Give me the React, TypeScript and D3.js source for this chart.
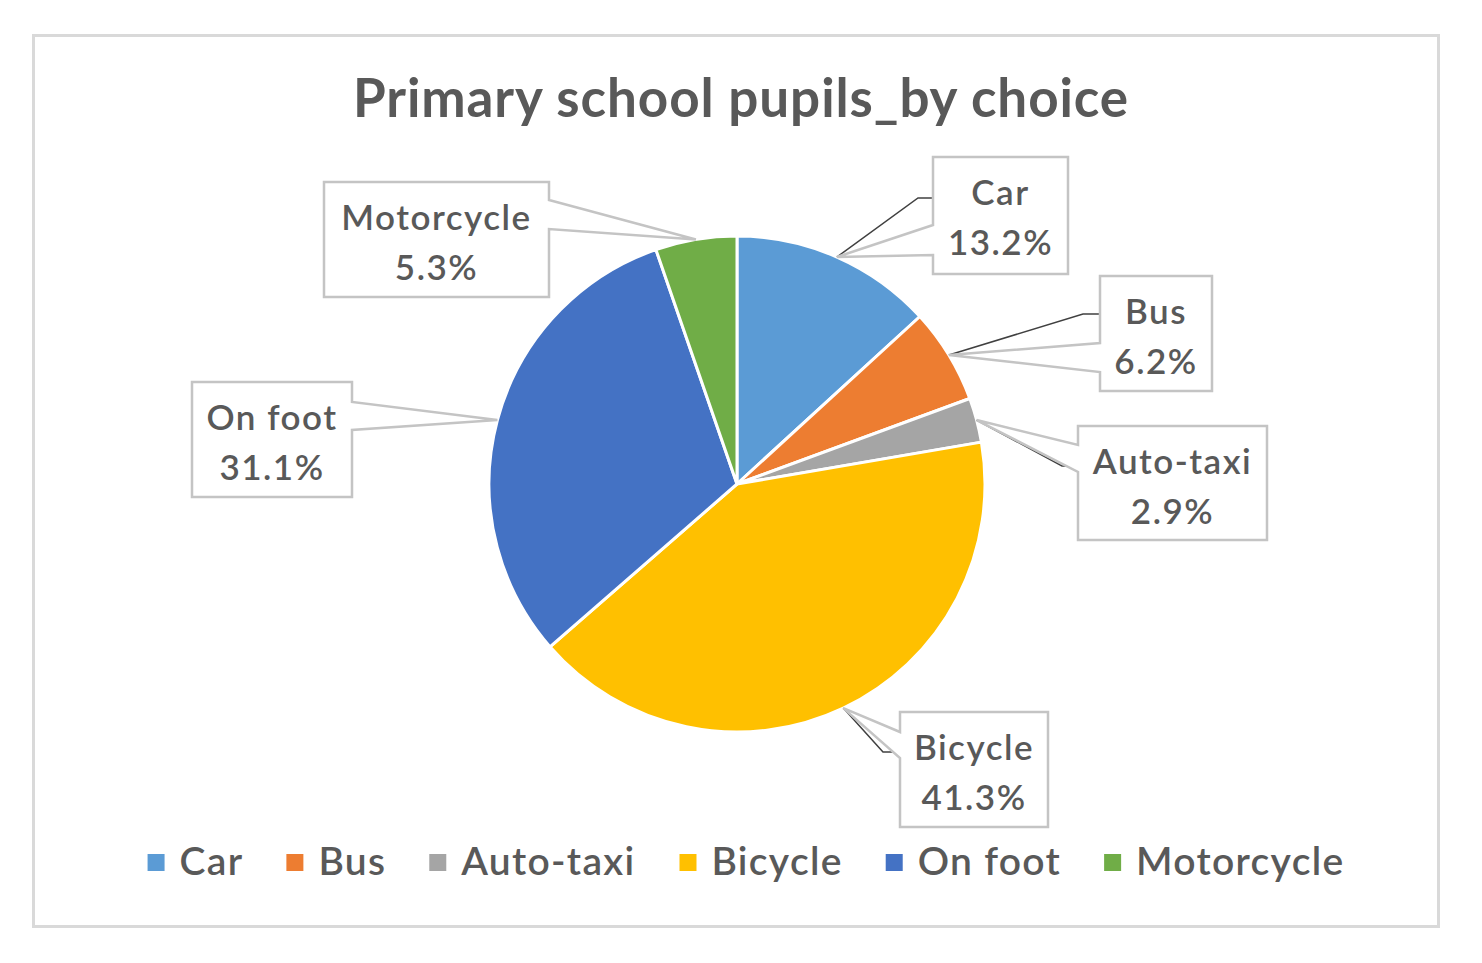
import React, { useLayoutEffect, useRef, useState } from "react";
import * as d3 from "d3";

const categories = ["Car", "Bus", "Auto-taxi", "Bicycle", "On foot", "Motorcycle"];
const shares = [13.2, 6.2, 2.9, 41.3, 31.1, 5.3];
const colors = ["#5B9BD5", "#ED7D31", "#A5A5A5", "#FFC000", "#4472C4", "#70AD47"];
const title = "Primary school pupils_by choice";

// callout layout (annotation boxes)
type Callout = {
  x: number; y: number; w: number; h: number;
  side: "left" | "right"; b0: number; b1: number;
  leader?: [number, number][];
};
const callouts: Callout[] = [
  { x: 933, y: 157, w: 135, h: 117, side: "left", b0: 225, b1: 255, leader: [[918, 198], [933, 198]] },
  { x: 1100, y: 276, w: 112, h: 115, side: "left", b0: 343, b1: 372, leader: [[1083, 314], [1100, 314]] },
  { x: 1078, y: 426, w: 189, h: 114, side: "left", b0: 445, b1: 472, leader: [[1062, 466], [1078, 466]] },
  { x: 900, y: 712, w: 148, h: 115, side: "left", b0: 732, b1: 758, leader: [[883, 752], [900, 752]] },
  { x: 192, y: 382, w: 160, h: 115, side: "right", b0: 402, b1: 430 },
  { x: 324, y: 182, w: 225, h: 115, side: "right", b0: 200, b1: 229 },
];

const FONT = "Lato, 'Noto Sans', sans-serif";
const TEXT = "#595959";

function calloutPath(c: Callout, tip: [number, number]) {
  const { x, y, w, h, b0, b1 } = c;
  if (c.side === "left") {
    return `M${x},${y}H${x + w}V${y + h}H${x}V${b1}L${tip[0]},${tip[1]}L${x},${b0}Z`;
  }
  return `M${x},${y}H${x + w}V${b0}L${tip[0]},${tip[1]}L${x + w},${b1}V${y + h}H${x}Z`;
}

export default function App() {
  const cx = 737, cy = 484, r = 248;
  const pie = d3.pie<number>().sort(null).value((d) => d);
  const arcs = pie(shares);
  const arc = d3.arc<d3.PieArcDatum<number>>().innerRadius(0).outerRadius(r);
  const rimArc = d3.arc<d3.PieArcDatum<number>>().innerRadius(r).outerRadius(r);

  const textRefs = useRef<(SVGTextElement | null)[]>([]);
  const [widths, setWidths] = useState<number[]>(categories.map((c) => c.length * 21));
  useLayoutEffect(() => {
    const w = textRefs.current.map((t) => (t ? t.getBBox().width : 0));
    if (w.some((v, i) => Math.abs(v - widths[i]) > 0.5)) setWidths(w);
  });

  const sq = 17, gapAfterSq = 15, itemGap = 43;
  const itemW = widths.map((w) => sq + gapAfterSq + w);
  const total = itemW.reduce((a, b) => a + b, 0) + itemGap * (itemW.length - 1);
  const legendCenter = 746;
  let lx = legendCenter - total / 2;
  const legendX: number[] = [];
  itemW.forEach((w) => { legendX.push(lx); lx += w + itemGap; });

  return (
    <svg width={1482} height={963} style={{ position: "absolute", left: 0, top: 0 }}>
      <rect x={0} y={0} width={1482} height={963} fill="#ffffff" />
      <rect x={33.5} y={35.5} width={1405} height={891} fill="#ffffff" stroke="#d9d9d9" strokeWidth={3} />
      <text x={741} y={117} textAnchor="middle" fontFamily={FONT} fontWeight="bold" fontSize={53} letterSpacing={0.9} fill={TEXT}>
        {title}
      </text>
      <g transform={`translate(${cx},${cy})`}>
        {arcs.map((a, i) => (
          <path key={i} d={arc(a) || ""} fill={colors[i]} stroke="#ffffff" strokeWidth={3} strokeLinejoin="round" />
        ))}
      </g>
      {arcs.map((a, i) => {
        const c = callouts[i];
        const p = rimArc.centroid(a);
        const tip: [number, number] = [cx + p[0], cy + p[1]];
        const line = c.leader ? [tip, ...c.leader] : null;
        return (
          <g key={i}>
            {line && (
              <polyline points={line.map((q) => q.join(",")).join(" ")} fill="none" stroke="#404040" strokeWidth={1.5} />
            )}
            <path d={calloutPath(c, tip)} fill="#ffffff" stroke="#c4c4c4" strokeWidth={2.5} strokeLinejoin="miter" />
            <text x={c.x + c.w / 2} y={c.y + 48} textAnchor="middle" fontFamily={FONT} fontWeight={600} fontSize={35} letterSpacing={1.5} fill={TEXT}>
              {categories[i]}
            </text>
            <text x={c.x + c.w / 2} y={c.y + 98} textAnchor="middle" fontFamily={FONT} fontWeight={600} fontSize={35} letterSpacing={1.5} fill={TEXT}>
              {shares[i].toFixed(1) + "%"}
            </text>
          </g>
        );
      })}
      <g>
        {categories.map((cat, i) => (
          <g key={cat}>
            <rect x={legendX[i]} y={854} width={sq} height={sq} fill={colors[i]} />
            <text
              ref={(el) => { textRefs.current[i] = el; }}
              x={legendX[i] + sq + gapAfterSq}
              y={875}
              fontFamily={FONT}
              fontWeight={600}
              fontSize={39}
              letterSpacing={1.3}
              fill={TEXT}
            >
              {cat}
            </text>
          </g>
        ))}
      </g>
    </svg>
  );
}
